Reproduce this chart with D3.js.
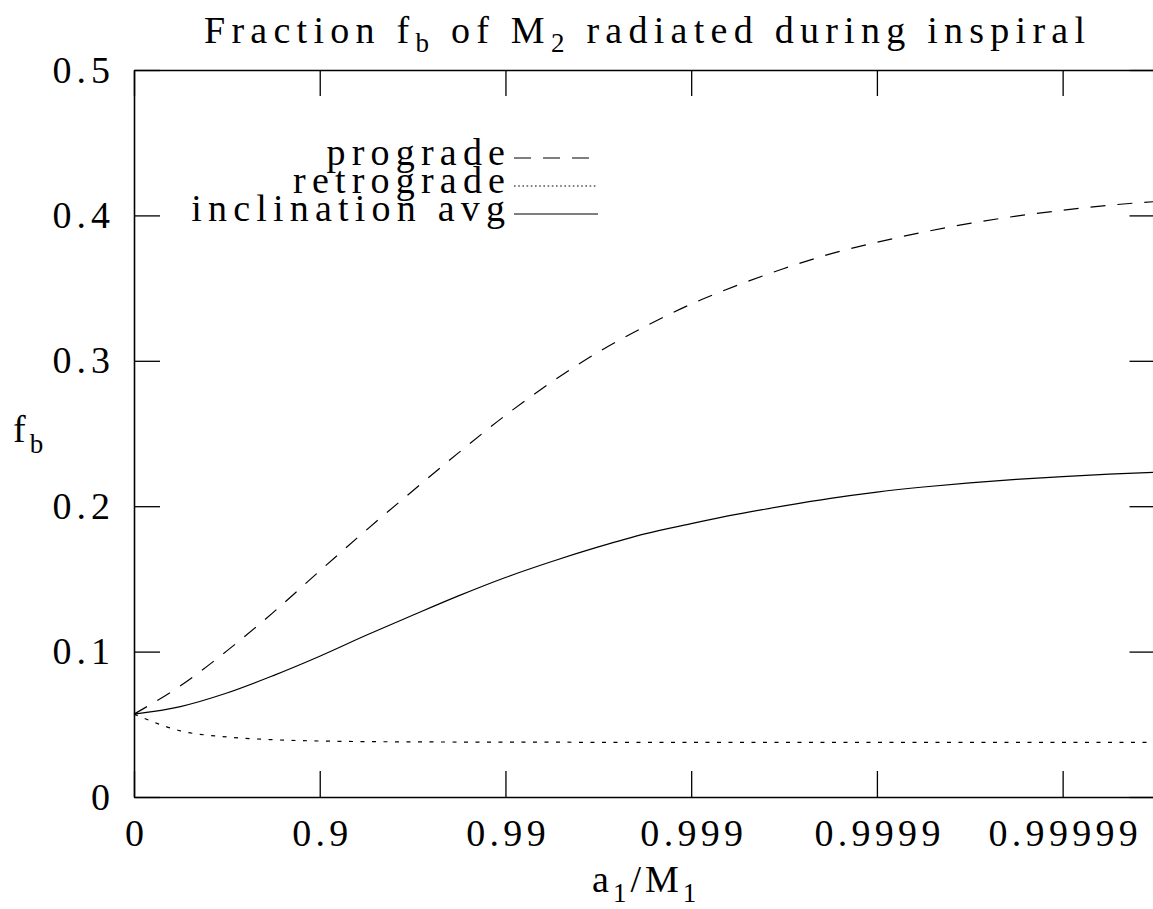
<!DOCTYPE html>
<html>
<head>
<meta charset="utf-8">
<script src="https://cdn.jsdelivr.net/npm/d3@7"></script>
<style>
  html, body { margin: 0; padding: 0; background: #fff; overflow: hidden; }
  svg { display: block; }
</style>
</head>
<body>
<script>
// Abscissa in decades: d = -log10(1 - a1/M1)
const spinDecades = [0, 0.25, 0.5, 0.75, 1.0, 1.25, 1.5, 1.75, 2.0, 2.25, 2.5, 2.75,
                     3.0, 3.25, 3.5, 3.75, 4.0, 4.25, 4.5, 4.75, 5.0, 5.25, 5.5];

// f_b for prograde equatorial orbits
const prograde = [0.057, 0.0765, 0.1005, 0.127, 0.1555, 0.1835, 0.2105, 0.237, 0.2625, 0.2855,
                  0.306, 0.3235, 0.339, 0.352, 0.3635, 0.3735, 0.3815, 0.3885, 0.3945, 0.3995,
                  0.4035, 0.407, 0.4095];

// f_b for retrograde equatorial orbits
const retrograde = [0.057, 0.0455, 0.0413, 0.0394, 0.0385, 0.0381, 0.0379, 0.0378, 0.0377, 0.0377,
                    0.0376, 0.0376, 0.0376, 0.0376, 0.0376, 0.0376, 0.0376, 0.0376, 0.0376, 0.0376,
                    0.0376, 0.0376, 0.0376];

// f_b averaged over inclination
const inclinationAvg = [0.057, 0.0622, 0.0715, 0.0835, 0.0968, 0.1112, 0.125, 0.1385, 0.151, 0.162,
                        0.172, 0.181, 0.188, 0.1945, 0.2002, 0.2054, 0.2097, 0.2132, 0.2161, 0.2185,
                        0.2204, 0.222, 0.2234];

const xTickDecades = [0, 1, 2, 3, 4, 5];
const xTickLabels = ["0", "0.9", "0.99", "0.999", "0.9999", "0.99999"];
const yTicks = [0, 0.1, 0.2, 0.3, 0.4, 0.5];
const yTickLabels = ["0", "0.1", "0.2", "0.3", "0.4", "0.5"];

const FONT = '"Liberation Serif", "Times New Roman", serif';
const W = 1153, H = 909;
const margin = { left: 134, top: 70 };
const plotW = 1021.5, plotH = 727;
const FS = 38;
const SUB = 27;
const TICK = 26;
const LS = 5;

const svg = d3.select("body").append("svg")
  .attr("width", W).attr("height", H)
  .attr("font-family", FONT);

const x = d3.scaleLinear().domain([0, 5.5]).range([0, plotW]);
const y = d3.scaleLinear().domain([0, 0.5]).range([plotH, 0]);

const g = svg.append("g").attr("transform", `translate(${margin.left},${margin.top})`);

function styleAxis(sel, ls) {
  sel.attr("font-family", FONT).attr("font-size", FS);
  sel.selectAll("path.domain").attr("stroke", "#000").attr("stroke-width", 1.6);
  sel.selectAll(".tick line").attr("stroke", "#000").attr("stroke-width", 1.3);
  sel.selectAll("text").attr("fill", "#000").attr("letter-spacing", ls);
}

// bottom axis with labels
const xLS = 4.3;
const xAxisG = g.append("g").attr("transform", `translate(0,${plotH})`)
  .call(d3.axisBottom(x).tickValues(xTickDecades)
    .tickFormat((d, i) => xTickLabels[i])
    .tickSizeInner(-TICK).tickSizeOuter(0).tickPadding(22))
  .call(styleAxis, xLS);
// letter-spacing trails the last glyph; recentre the labels
xAxisG.selectAll("text").attr("dx", xLS / 2);

// top axis, ticks only
g.append("g")
  .call(d3.axisTop(x).tickValues(xTickDecades).tickFormat("")
    .tickSizeInner(-TICK).tickSizeOuter(0))
  .call(styleAxis, 0);

// left axis with labels
g.append("g")
  .call(d3.axisLeft(y).tickValues(yTicks)
    .tickFormat((d, i) => yTickLabels[i])
    .tickSizeInner(-TICK).tickSizeOuter(0).tickPadding(24 - LS))
  .call(styleAxis, LS);

// right axis, ticks only
g.append("g").attr("transform", `translate(${plotW},0)`)
  .call(d3.axisRight(y).tickValues(yTicks).tickFormat("")
    .tickSizeInner(-TICK).tickSizeOuter(0))
  .call(styleAxis, 0);

// curves
const series = [
  { name: "prograde", values: prograde, dash: "15,12" },
  { name: "retrograde", values: retrograde, dash: "4,7.5" },
  { name: "inclination avg", values: inclinationAvg, dash: null }
];

const line = d3.line()
  .x((d, i) => x(spinDecades[i]))
  .y(d => y(d))
  .curve(d3.curveMonotoneX);

g.selectAll("path.curve").data(series).enter().append("path")
  .attr("class", "curve")
  .attr("d", s => line(s.values))
  .attr("fill", "none")
  .attr("stroke", "#000")
  .attr("stroke-width", 1.2)
  .attr("stroke-dasharray", s => s.dash);

// legend
const legendDash = { "prograde": "17,12", "retrograde": "1.6,2.6", "inclination avg": null };
const legendRowY = [158, 186, 214];
const legendLS = 6.2;
const legend = svg.append("g");
series.forEach((s, i) => {
  legend.append("text")
    .attr("x", 505 + legendLS).attr("y", legendRowY[i] + 7)
    .attr("text-anchor", "end")
    .attr("font-size", FS)
    .attr("letter-spacing", legendLS)
    .text(s.name);
  legend.append("line")
    .attr("x1", 514).attr("x2", 598)
    .attr("y1", legendRowY[i]).attr("y2", legendRowY[i])
    .attr("stroke", "#000").attr("stroke-width", 1.2)
    .attr("stroke-dasharray", legendDash[s.name]);
});

// title with subscripts
const title = svg.append("text")
  .attr("x", 204).attr("y", 43)
  .attr("font-size", FS);
title.append("tspan").text("Fraction f");
title.append("tspan").attr("dy", 9).attr("font-size", SUB).text("b");
title.append("tspan").attr("dy", -9).text(" of M");
title.append("tspan").attr("dy", 9).attr("font-size", SUB).text("2");
title.append("tspan").attr("dy", -9).text(" radiated during inspiral");
{
  const target = 881;
  const n = "Fraction fb of M2 radiated during inspiral".length;
  const w0 = title.node().getComputedTextLength();
  title.attr("letter-spacing", (target - w0) / (n - 1));
}

// x-axis label a1/M1
const xl = svg.append("text")
  .attr("x", 592).attr("y", 892)
  .attr("font-size", FS)
  .attr("letter-spacing", 4);
xl.append("tspan").text("a");
xl.append("tspan").attr("dy", 10).attr("font-size", SUB).text("1");
xl.append("tspan").attr("dy", -10).text("/M");
xl.append("tspan").attr("dy", 10).attr("font-size", SUB).text("1");

// y-axis label f_b
const yl = svg.append("text")
  .attr("x", 13).attr("y", 442)
  .attr("font-size", FS);
yl.append("tspan").text("f");
yl.append("tspan").attr("dx", 4).attr("dy", 11).attr("font-size", SUB).text("b");
</script>
</body>
</html>
